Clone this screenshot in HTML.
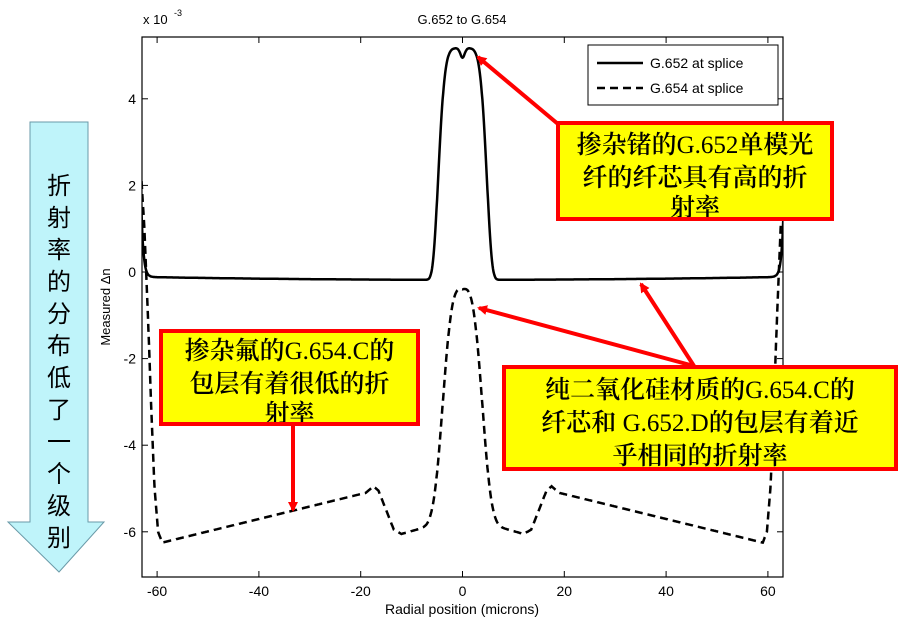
<!DOCTYPE html>
<html><head><meta charset="utf-8"><style>
body{margin:0;background:#fff;width:907px;height:626px;overflow:hidden;font-family:"Liberation Sans",sans-serif}
svg{position:absolute;left:0;top:0}
.box{position:absolute;background:#ffff00;border:4px solid #ff0000;box-sizing:border-box;font-family:"Noto Serif CJK SC","Liberation Serif",serif;font-size:25px;line-height:30px;text-align:center;color:#000;white-space:nowrap;overflow:hidden;font-weight:600}
.n{font-family:"Liberation Sans Narrow","Liberation Serif",serif;font-weight:normal}
</style></head><body>
<svg id="s" width="907" height="626" xmlns="http://www.w3.org/2000/svg">
<defs><clipPath id="c"><rect x="142" y="37" width="641" height="540"/></clipPath>
<marker id="ah" markerWidth="10" markerHeight="10" refX="8" refY="5" orient="auto" markerUnits="userSpaceOnUse" viewBox="0 0 10 10"><path d="M0,0 L10,5 L0,10 z" fill="#f00"/></marker></defs>
<path d="M30,122 H88 V522 H104 L59,572 L8,522 H30 Z" fill="#bff4fa" stroke="#6a9aa8" stroke-width="1"/>
<text font-family="Noto Sans CJK SC,sans-serif" font-size="24" fill="#000" text-anchor="middle">
<tspan x="59" y="194">折</tspan><tspan x="59" y="226">射</tspan><tspan x="59" y="258">率</tspan><tspan x="59" y="290">的</tspan><tspan x="59" y="322">分</tspan><tspan x="59" y="354">布</tspan><tspan x="59" y="386">低</tspan><tspan x="59" y="418">了</tspan><tspan x="59" y="450">一</tspan><tspan x="59" y="482">个</tspan><tspan x="59" y="514">级</tspan><tspan x="59" y="546">别</tspan></text>
<rect x="142" y="37" width="641" height="540" fill="none" stroke="#000" stroke-width="1.2"/>
<g id="ticks" stroke="#000" stroke-width="1"></g>
<g font-size="14" fill="#000" id="lbl"></g>
<text x="462" y="24" font-size="13" text-anchor="middle">G.652 to G.654</text>
<text x="143" y="24" font-size="13">x 10</text><text x="174" y="16" font-size="9">-3</text>
<text x="462" y="614" font-size="14" text-anchor="middle">Radial position (microns)</text>
<text transform="translate(110,307) rotate(-90)" font-size="13" text-anchor="middle">Measured Δn</text>
<g clip-path="url(#c)">
<path id="p1" fill="none" stroke="#000" stroke-width="2.5"/>
<path id="p2" fill="none" stroke="#000" stroke-width="2.5" stroke-dasharray="8,5"/>
</g>
<rect x="588" y="45" width="190" height="60" fill="#fff" stroke="#000" stroke-width="1"/>
<line x1="597" y1="63" x2="643" y2="63" stroke="#000" stroke-width="2.5"/>
<line x1="597" y1="88" x2="643" y2="88" stroke="#000" stroke-width="2.5" stroke-dasharray="8,5"/>
<text x="650" y="68" font-size="14">G.652 at splice</text>
<text x="650" y="93" font-size="14">G.654 at splice</text>
<g stroke="#f00" stroke-width="4" marker-end="url(#ah)">
<line x1="558" y1="124" x2="478" y2="57"/>
<line x1="694" y1="366" x2="479" y2="308"/>
<line x1="694" y1="366" x2="641" y2="284"/>
<line x1="293" y1="426" x2="293" y2="510"/>
</g>
</svg>
<div class="box" style="left:556px;top:121px;width:278px;height:100px;padding-top:3px">掺杂锗的<span class="n">G.652</span>单模光<br>纤的纤芯具有高的折<br>射率</div>
<div class="box" style="left:159px;top:329px;width:261px;height:97px;padding-top:1px">掺杂氟的<span class="n">G.654.C</span>的<br>包层有着很低的折<br>射率</div>
<div class="box" style="left:502px;top:365px;width:396px;height:106px;padding-top:4px">纯二氧化硅材质的<span class="n">G.654.C</span>的<br>纤芯和 <span class="n">G.652.D</span>的包层有着近<br>乎相同的折射率</div>
<script>
var X=function(x){return 462.5+x*5.09},Y=function(y){return 272-y*43.3};
var t=document.getElementById('ticks'),l=document.getElementById('lbl'),h='',g='';
[-60,-40,-20,0,20,40,60].forEach(function(v){var x=X(v);h+='<line x1="'+x+'" y1="577" x2="'+x+'" y2="571"/><line x1="'+x+'" y1="37" x2="'+x+'" y2="43"/>';g+='<text x="'+x+'" y="596" text-anchor="middle">'+v+'</text>';});
[4,2,0,-2,-4,-6].forEach(function(v){var y=Y(v);h+='<line x1="142" y1="'+y+'" x2="148" y2="'+y+'"/><line x1="783" y1="'+y+'" x2="777" y2="'+y+'"/>';g+='<text x="136" y="'+(y+5)+'" text-anchor="end">'+v+'</text>';});
t.innerHTML=h;l.innerHTML=g;
function f(x){var a=Math.abs(x);return -0.12-0.06*(1-Math.pow(a/60,2))+5.35*Math.exp(-Math.pow(a/4.95,5.8))-0.22*Math.exp(-Math.pow(x/0.6,2))+1.3*Math.exp(-(63-a)/0.4);}
var P=[[0,-6.0],[6,-5.85],[9,-5.95],[12,-6.05],[13.5,-5.95],[15,-5.5],[16.5,-5.05],[17.5,-4.95],[19,-5.1],[59,-6.25],[59.8,-6.0],[60.5,-5.0],[61.2,-3],[61.8,-1],[62.5,1],[64,4]];
function c(a){for(var i=0;i<P.length-1;i++){if(a<=P[i+1][0]){var r=(a-P[i][0])/(P[i+1][0]-P[i][0]);return P[i][1]+r*(P[i+1][1]-P[i][1]);}}return 4;}
function gg(x){var a=Math.abs(x);return c(a)+5.6*Math.exp(-Math.pow(a/4.4,3.2));}
var d1='',d2='';for(var x=-63.5;x<=63.5;x+=0.1){d1+=(d1?'L':'M')+X(x).toFixed(1)+','+Y(f(x)).toFixed(1);d2+=(d2?'L':'M')+X(x).toFixed(1)+','+Y(gg(x)).toFixed(1);}
document.getElementById('p1').setAttribute('d',d1);document.getElementById('p2').setAttribute('d',d2);
</script>
</body></html>
